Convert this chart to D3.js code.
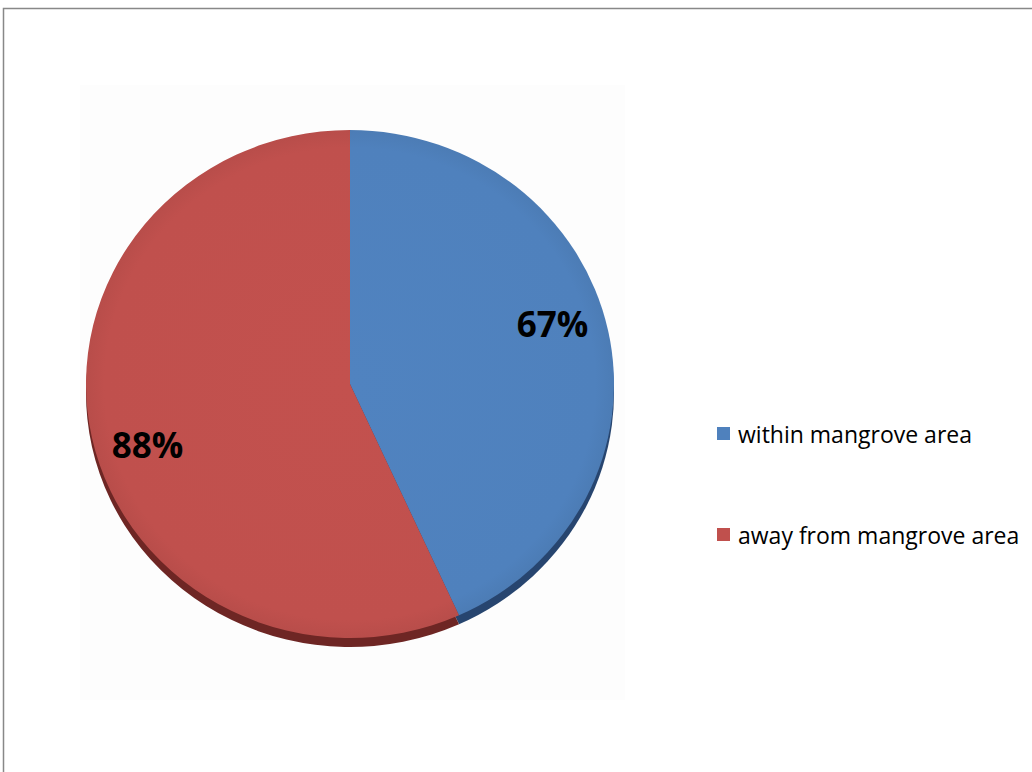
<!DOCTYPE html>
<html><head><meta charset="utf-8">
<script src="https://cdn.jsdelivr.net/npm/d3@7"></script>
<style>html,body{margin:0;padding:0;background:#fff;}svg{display:block;}</style>
</head><body>
<svg id="chart" width="1032" height="772"></svg>
<script>
const categories = ["within mangrove area", "away from mangrove area"];
const values = [67, 88];
const labels = ["67%", "88%"];
const colors = ["#4F81BD", "#C0504D"];
const shadowColors = ["#27456f", "#6e2624"];

const svg = d3.select("#chart");

// outer chart frame
svg.append("rect").attr("x", 3.5).attr("y", 8.5).attr("width", 1040).attr("height", 800)
  .attr("fill", "#fff").attr("stroke", "#888").attr("stroke-width", 1.5);
// faint plot area
svg.append("rect").attr("x", 80).attr("y", 85).attr("width", 545).attr("height", 615)
  .attr("fill", "#fdfdfd");

const cx = 350, cy = 384, r = 264, sy = 0.962;
const pie = d3.pie().sort(null).value(d => d)(values);
const arc = d3.arc().innerRadius(0).outerRadius(r);
const labelR = 212, labelShift = -5 * Math.PI / 180;

// depth / shadow
const sh = svg.append("g").attr("transform", `translate(${cx},${cy + 9}) scale(1,${sy})`);
sh.selectAll("path").data(pie).join("path").attr("d", arc).attr("fill", (d, i) => shadowColors[i]);

const defs = svg.append("defs");
colors.forEach((c, i) => {
  const g = defs.append("radialGradient").attr("id", "g" + i).attr("gradientUnits", "userSpaceOnUse")
    .attr("cx", 0).attr("cy", 0).attr("r", r);
  g.append("stop").attr("offset", "0%").attr("stop-color", d3.color(c).brighter(0.05));
  g.append("stop").attr("offset", "93%").attr("stop-color", c);
  g.append("stop").attr("offset", "100%").attr("stop-color", d3.color(c).darker(0.12));
});

const g = svg.append("g").attr("transform", `translate(${cx},${cy}) scale(1,${sy})`);
g.selectAll("path").data(pie).join("path").attr("d", arc).attr("fill", (d, i) => `url(#g${i})`);

// labels
svg.append("g").selectAll("text").data(pie).join("text")
  .each(function(d) {
    const p = d3.pointRadial((d.startAngle + d.endAngle) / 2 + labelShift, labelR);
    d3.select(this).attr("x", cx + p[0]).attr("y", cy + p[1] * sy);
  })
  .attr("text-anchor", "middle").attr("dominant-baseline", "central")
  .attr("font-family", "'Open Sans', 'Liberation Sans', sans-serif").attr("font-weight", "bold")
  .attr("font-size", 35).attr("fill", "#000")
  .text((d, i) => labels[i]);

// legend
const legY = [434, 535];
const leg = svg.append("g");
categories.forEach((c, i) => {
  leg.append("rect").attr("x", 717).attr("y", legY[i] - 7).attr("width", 13).attr("height", 13).attr("fill", colors[i]);
  leg.append("text").attr("x", 738).attr("y", legY[i]).attr("dominant-baseline", "central")
    .attr("font-family", "'Open Sans', 'Liberation Sans', sans-serif").attr("font-size", 23)
    .attr("fill", "#000").text(c);
});
</script>
</body></html>
